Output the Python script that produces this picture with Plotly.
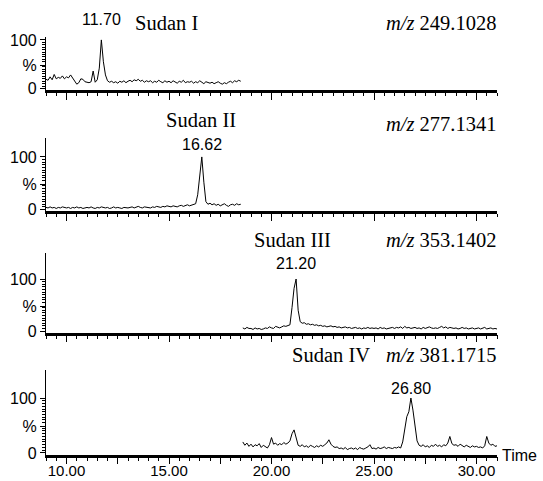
import plotly.graph_objects as go

# ---------------- data ----------------
time_a = [9.0, 9.1, 9.2, 9.3, 9.4, 9.5, 9.6, 9.7, 9.8, 9.9,
          10.0, 10.1, 10.2, 10.3, 10.4, 10.5, 10.6, 10.7, 10.8, 10.9,
          11.0, 11.1, 11.2, 11.3, 11.4, 11.5, 11.6, 11.7, 11.8, 11.9,
          12.0, 12.1, 12.2, 12.3, 12.4, 12.5, 12.6, 12.7, 12.8, 12.9,
          13.0, 13.1, 13.2, 13.3, 13.4, 13.5, 13.6, 13.7, 13.8, 13.9,
          14.0, 14.1, 14.2, 14.3, 14.4, 14.5, 14.6, 14.7, 14.8, 14.9,
          15.0, 15.1, 15.2, 15.3, 15.4, 15.5, 15.6, 15.7, 15.8, 15.9,
          16.0, 16.1, 16.2, 16.3, 16.4, 16.5, 16.6, 16.7, 16.8, 16.9,
          17.0, 17.1, 17.2, 17.3, 17.4, 17.5, 17.6, 17.7, 17.8, 17.9,
          18.0, 18.1, 18.2, 18.3, 18.4, 18.5]

time_b = [18.6, 18.7, 18.8, 18.9,
          19.0, 19.1, 19.2, 19.3, 19.4, 19.5, 19.6, 19.7, 19.8, 19.9,
          20.0, 20.1, 20.2, 20.3, 20.4, 20.5, 20.6, 20.7, 20.8, 20.9,
          21.0, 21.1, 21.2, 21.3, 21.4, 21.5, 21.6, 21.7, 21.8, 21.9,
          22.0, 22.1, 22.2, 22.3, 22.4, 22.5, 22.6, 22.7, 22.8, 22.9,
          23.0, 23.1, 23.2, 23.3, 23.4, 23.5, 23.6, 23.7, 23.8, 23.9,
          24.0, 24.1, 24.2, 24.3, 24.4, 24.5, 24.6, 24.7, 24.8, 24.9,
          25.0, 25.1, 25.2, 25.3, 25.4, 25.5, 25.6, 25.7, 25.8, 25.9,
          26.0, 26.1, 26.2, 26.3, 26.4, 26.5, 26.6, 26.7, 26.8, 26.9,
          27.0, 27.1, 27.2, 27.3, 27.4, 27.5, 27.6, 27.7, 27.8, 27.9,
          28.0, 28.1, 28.2, 28.3, 28.4, 28.5, 28.6, 28.7, 28.8, 28.9,
          29.0, 29.1, 29.2, 29.3, 29.4, 29.5, 29.6, 29.7, 29.8, 29.9,
          30.0, 30.1, 30.2, 30.3, 30.4, 30.5, 30.6, 30.7, 30.8, 30.9,
          31.0]

sudan_1 = [19, 17, 24, 18, 29, 20, 23, 21, 26, 20,
           24, 22, 28, 21, 16, 9, 12, 20, 19, 14,
           13, 12, 14, 36, 13, 18, 42, 100, 55, 28,
           16, 13, 15, 12, 14, 11, 15, 13, 16, 12,
           15, 17, 14, 18, 16, 19, 15, 17, 13, 16,
           14, 16, 12, 15, 13, 17, 14, 12, 16, 13,
           15, 12, 16, 14, 11, 15, 13, 17, 12, 14,
           13, 15, 11, 14, 12, 16, 13, 10, 14, 12,
           11, 13, 10, 12, 14, 11, 9, 12, 10, 13,
           15, 12, 16, 14, 17, 15]

sudan_2 = [4, 3, 5, 3, 4, 2, 4, 3, 5, 4,
           3, 4, 2, 4, 3, 5, 3, 4, 2, 3,
           4, 3, 5, 3, 2, 4, 3, 5, 4, 3,
           4, 2, 3, 5, 3, 4, 3, 2, 4, 3,
           3, 4, 5, 3, 4, 6, 4, 3, 5, 4,
           4, 3, 5, 4, 6, 5, 4, 6, 5, 7,
           6, 5, 7, 6, 5, 7, 8, 6, 7, 9,
           7, 8, 9, 11, 28, 72, 100, 52, 15, 10,
           12, 9, 11, 8, 10, 7, 9, 11, 8, 6,
           9, 10, 8, 11, 9, 10]

sudan_3 = [6, 4, 7, 5,
           5, 3, 6, 4, 5, 3, 4, 6, 5, 8,
           6, 5, 9, 7, 6, 8, 10, 9, 11, 12,
           45, 82, 100, 40, 18, 15, 16, 13, 14, 12,
           13, 11, 12, 10, 11, 9, 10, 8, 9, 10,
           8, 9, 7, 8, 6, 7, 8, 6, 7, 5,
           6, 7, 5, 6, 4, 6, 5, 7, 5, 6,
           5, 6, 4, 7, 5, 6, 4, 5, 6, 7,
           5, 7, 6, 8, 5, 9, 6, 7, 5, 6,
           7, 5, 6, 4, 7, 5, 6, 8, 6, 5,
           6, 5, 7, 9, 6, 8, 5, 7, 6, 5,
           6, 4, 5, 7, 5, 6, 4, 5, 6, 4,
           5, 6, 4, 5, 7, 4, 5, 6, 4, 5,
           4]

sudan_4 = [20, 14, 18, 12,
           16, 11, 15, 13, 17, 10, 14, 12, 9, 15,
           28, 16, 18, 14, 17, 15, 19, 16, 18, 22,
           35, 42, 28, 14, 12, 15, 11, 13, 10, 14,
           12, 10, 13, 11, 14, 12, 15, 18, 24, 16,
           12, 10, 11, 8, 9, 7, 10, 6, 8, 9,
           7, 9, 6, 10, 8, 7, 9, 11, 15, 8,
           9, 7, 10, 8, 9, 11, 8, 10, 9, 8,
           10, 9, 11, 9, 20, 45, 66, 75, 100, 78,
           45, 22, 14, 12, 15, 11, 13, 10, 14, 12,
           16, 12, 14, 11, 15, 13, 18, 30, 17, 14,
           15, 12, 16, 13, 11, 14, 12, 10, 13, 11,
           12, 10, 11, 9, 13, 30, 18, 14, 16, 12,
           13]

compounds = ["Sudan I", "Sudan II", "Sudan III", "Sudan IV"]
mz_values = ["249.1028", "277.1341", "353.1402", "381.1715"]
peak_times = [11.70, 16.62, 21.20, 26.80]
peak_labels = ["11.70", "16.62", "21.20", "26.80"]

x_major_ticks = [10, 12.5, 15, 17.5, 20, 22.5, 25, 27.5, 30]
x_major_text = ["10.00", "", "15.00", "", "20.00", "", "25.00", "", "30.00"]
y_tick_vals = [0, 48, 100]
y_tick_text = ["0", "%", "100"]
y_minor_vals = [5, 10, 15, 20, 25, 30, 35, 40, 45, 55, 60, 65, 70, 75, 80, 85, 90, 95]

series_x = [time_a, time_a, time_b, time_b]
series_y = [sudan_1, sudan_2, sudan_3, sudan_4]

# ---------------- layout / style ----------------
W, H = 543, 481
ML, MR = 46, 46
PW = W - ML - MR

def px_x(px):
    return (px - ML) / PW

def px_y(py):
    return 1 - py / H

# panel pixel geometry: (bottom px, top px, y max)
panels = [(90.0, 37.0, 106), (211.1, 138.0, 136), (332.6, 253.0, 150), (454.6, 370.0, 151)]
YMIN = -3

# text pixel positions
title_pos = [(166, 23), (201, 120), (292, 240), (331, 355)]
mz_pos_y = [23, 124, 240, 355]
peak_pos_y = [19.5, 144, 263, 388]

SANS = "Liberation Sans, Arial, sans-serif"
SERIF = "Liberation Serif, Times New Roman, serif"

fig = go.Figure()
layout = dict(width=W, height=H, margin=dict(l=ML, r=MR, t=0, b=0, autoexpand=False),
              plot_bgcolor="white", paper_bgcolor="white", showlegend=False)

annotations = []
for i in range(4):
    n = "" if i == 0 else str(i + 1)
    fig.add_trace(go.Scatter(x=series_x[i], y=series_y[i], mode="lines",
                             line=dict(color="black", width=1),
                             xaxis="x" + n, yaxis="y" + n, hoverinfo="skip"))
    bot, top, ymax = panels[i]
    layout["xaxis" + n] = dict(
        domain=[0, 1], range=[9.0, 31.0], anchor="y" + n,
        showline=True, linewidth=2.5, linecolor="black",
        showgrid=False, zeroline=False, automargin=False,
        tickmode="array", tickvals=x_major_ticks, ticktext=x_major_text,
        ticks="outside", ticklen=7, tickwidth=1, tickcolor="black",
        minor=dict(tick0=0, dtick=0.5, ticks="outside", ticklen=3.5,
                   tickwidth=1, tickcolor="black"),
        showticklabels=(i == 3), ticklabelstandoff=-6,
        tickfont=dict(family=SANS, size=15, color="black"),
    )
    layout["yaxis" + n] = dict(
        domain=[px_y(bot), px_y(top)], range=[YMIN, ymax], anchor="x" + n,
        showline=True, linewidth=1.2, linecolor="black",
        showgrid=False, zeroline=False, automargin=False,
        tickmode="array", tickvals=y_tick_vals, ticktext=y_tick_text,
        ticks="outside", ticklen=5, tickwidth=1, tickcolor="black",
        minor=dict(tickvals=y_minor_vals, ticks="outside", ticklen=3,
                   tickwidth=1, tickcolor="black"),
        tickfont=dict(family=SANS, size=16, color="black"),
    )
    tx, ty = title_pos[i]
    annotations.append(dict(text=compounds[i], x=px_x(tx), y=px_y(ty),
                            xref="paper", yref="paper", showarrow=False,
                            xanchor="center", yanchor="middle",
                            font=dict(family=SERIF, size=20.5, color="black")))
    annotations.append(dict(text="<i>m/z</i> " + mz_values[i], x=px_x(498), y=px_y(mz_pos_y[i]),
                            xref="paper", yref="paper", showarrow=False,
                            xanchor="right", yanchor="middle",
                            font=dict(family=SERIF, size=20.5, color="black")))
    annotations.append(dict(text=peak_labels[i], x=peak_times[i], y=px_y(peak_pos_y[i]),
                            xref="x" + n, yref="paper", showarrow=False,
                            xanchor="center", yanchor="middle",
                            font=dict(family=SANS, size=16, color="black")))

annotations.append(dict(text="Time", x=px_x(500), y=px_y(455), xref="paper", yref="paper",
                        showarrow=False, xanchor="left", yanchor="middle",
                        font=dict(family=SANS, size=16, color="black")))
layout["annotations"] = annotations
fig.update_layout(**layout)
fig.write_html("out.html", config={"displayModeBar": False},
               post_script="document.body.style.margin='0';document.body.style.padding='0';")
